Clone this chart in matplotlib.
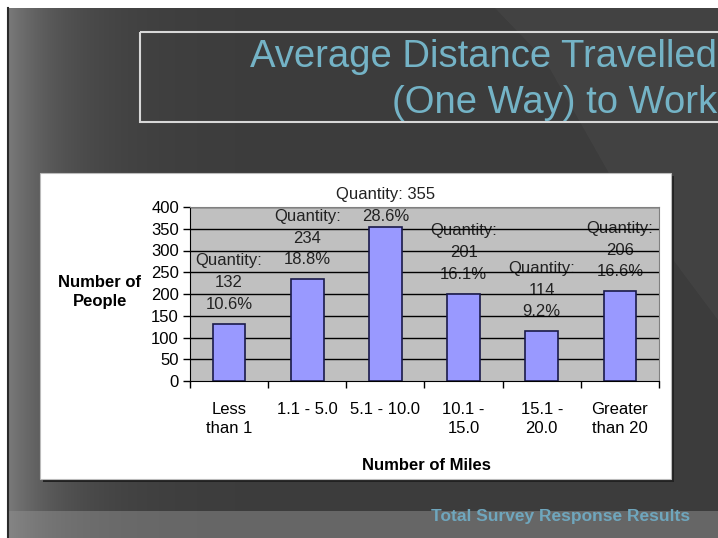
import numpy as np
import matplotlib.pyplot as plt
from matplotlib.patches import Rectangle, Polygon

# Daten
kategorien = ["Less\nthan 1", "1.1 - 5.0", "5.1 - 10.0", "10.1 -\n15.0", "15.1 -\n20.0", "Greater\nthan 20"]
anzahl = [132, 234, 355, 201, 114, 206]
prozent = ["10.6%", "18.8%", "28.6%", "16.1%", "9.2%", "16.6%"]
y_ticks = [0, 50, 100, 150, 200, 250, 300, 350, 400]

plt.rcParams['font.family'] = ['Liberation Sans', 'DejaVu Sans']

W, H = 718, 538
fig = plt.figure(figsize=(W / 100, H / 100), dpi=100)
fig.patch.set_facecolor('white')

# Hintergrund der Folie
bg = fig.add_axes([0, 0, 1, 1])
bg.set_xlim(0, W)
bg.set_ylim(H, 0)
bg.axis('off')
X, Y = np.meshgrid(np.arange(W), np.arange(H))
wert = 0x3c + (0x7a - 0x3c) * np.exp(-(X - 8) / 55.0)
wert = np.where(Y > 510, 0x66 + 0.5 * (wert - 0x3c), wert)
img = np.clip(wert, 0, 255) / 255.0
img = np.dstack([img, img, img])
img[:8, :, :] = 1.0
img[:, :8, :] = 1.0
bg.imshow(img, extent=[0, W, H, 0], aspect='auto', zorder=0)
bg.add_patch(Polygon([[495, 8], [718, 8], [718, 320], [610, 175], [545, 60]],
                     closed=True, facecolor='white', alpha=0.035, edgecolor='none', zorder=1))
bg.plot([8, 8], [8, H], color='#2a2a2a', lw=1.5, zorder=2)

# Titelrahmen
bg.add_patch(Rectangle((140, 32), 600, 90, fill=False, edgecolor='#d8d8d8', lw=1.5, zorder=2))
bg.text(717, 57, "Average Distance Travelled", ha='right', va='center', fontsize=27.5,
        color='#74b3c6', zorder=3)
bg.text(717, 103, "(One Way) to Work", ha='right', va='center', fontsize=27.5,
        color='#74b3c6', zorder=3)
bg.text(561, 516, "Total Survey Response Results", ha='center', va='center', fontsize=12.5,
        color='#6fa6bd', fontweight='bold', zorder=3)

# weisses Diagramm-Feld
bg.add_patch(Rectangle((43, 176), 631, 306, facecolor='#222222', edgecolor='none', zorder=2))
bg.add_patch(Rectangle((40, 173), 631, 306, facecolor='white', edgecolor='#bbbbbb', lw=0.8, zorder=3))

# Diagramm
ax = fig.add_axes([190 / W, 1 - 381 / H, 469 / W, 174 / H])
ax.set_facecolor('#c0c0c0')
x = np.arange(len(kategorien))
ax.set_xlim(-0.5, len(kategorien) - 0.5)
ax.set_ylim(0, 400)
for t in y_ticks[1:]:
    ax.axhline(t, color='black', lw=1, zorder=2)
ax.bar(x, anzahl, width=0.42, color='#9999ff', edgecolor='#1a1a4a', lw=1.2, zorder=3)

for i, (n, p) in enumerate(zip(anzahl, prozent)):
    if n > 300:
        txt = "Quantity: %d\n%s" % (n, p)
        off = 3
    else:
        txt = "Quantity:\n%d\n%s" % (n, p)
        off = 12
    ax.annotate(txt, (i, n), xytext=(0, off), textcoords='offset pixels',
                ha='center', va='bottom', fontsize=12, color='#222222',
                linespacing=1.55, zorder=1.5, annotation_clip=False)

ax.set_yticks(y_ticks)
ax.set_xticks(x)
ax.set_xticklabels(kategorien, linespacing=1.32)
ax.set_xticks(np.arange(-0.5, len(kategorien)), minor=True)
ax.tick_params(axis='x', which='major', length=0, pad=15, labelsize=12)
ax.tick_params(axis='x', which='minor', length=5, direction='out', width=1)
ax.tick_params(axis='y', length=5, direction='out', width=1, labelsize=12, pad=3)
for s in ['top', 'right']:
    ax.spines[s].set_color('#808080')
for s in ['left', 'bottom']:
    ax.spines[s].set_color('black')

fig.text(100 / W, 1 - 292 / H, "Number of\nPeople", ha='center', va='center',
         fontsize=12, fontweight='bold', linespacing=1.32)
fig.text(426 / W, 1 - 465 / H, "Number of Miles", ha='center', va='center',
         fontsize=12, fontweight='bold')

fig.savefig('out.png', dpi=100, facecolor=fig.get_facecolor())
